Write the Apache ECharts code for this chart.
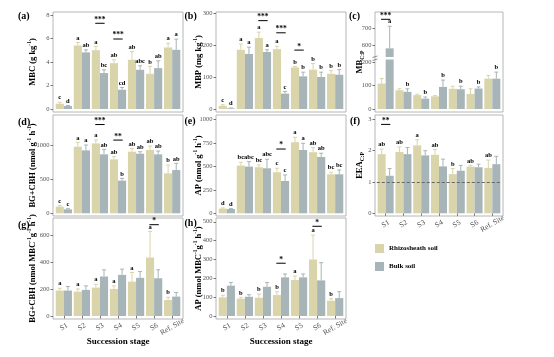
<!DOCTYPE html>
<html><head><meta charset="utf-8">
<script src="https://cdn.jsdelivr.net/npm/echarts@6/dist/echarts.min.js"></script>
<style>html,body{margin:0;padding:0;background:#fff}#c{width:554px;height:357px}</style>
</head><body><div id="c"></div>
<script>
// ---------------- data ----------------
const stages = ['S1', 'S2', 'S3', 'S4', 'S5', 'S6', 'Ref. Site'];
const seriesNames = ['Rhizosheath soil', 'Bulk soil'];

// (a) MBC (g kg-1)
const mbcRhizo = [0.45, 5.41, 5.01, 3.90, 4.19, 3.00, 5.24];
const mbcRhizoSe = [0.12, 0.26, 0.32, 0.29, 0.71, 0.63, 0.36];
const mbcBulk = [0.25, 4.82, 3.06, 1.64, 3.34, 3.48, 5.04];
const mbcBulkSe = [0.05, 0.22, 0.28, 0.20, 0.34, 0.62, 0.91];
const mbcRhizoLet = ['c', 'a', 'a', 'ab', 'ab', 'b', 'a'];
const mbcBulkLet = ['d', 'ab', 'bc', 'cd', 'abc', 'ab', 'a'];
const mbcSig = [[2, 7.3, '***'], [3, 5.96, '***']];
const mbcTicks = [0, 2, 4, 6, 8];

// (b) MBP (mg kg-1)
const mbpRhizo = [10, 185, 222, 187, 130, 123, 110];
const mbpRhizoSe = [3.5, 18, 18, 9, 3, 19, 10];
const mbpBulk = [2, 172, 178, 48, 102, 100, 107];
const mbpBulkSe = [1, 21, 7, 7, 13, 15, 16];
const mbpRhizoLet = ['c', 'a', 'a', 'a', 'b', 'b', 'b'];
const mbpBulkLet = ['d', 'a', 'a', 'c', 'b', 'b', 'b'];
const mbpSig = [[2, 276, '***'], [3, 238, '***'], [4, 184, '*']];
const mbpTicks = [0, 100, 200, 300];

// (c) MB C:P (broken axis)
const mbcpRhizo = [108, 80, 59, 54, 86, 64, 129];
const mbcpRhizoSe = [22, 6, 4, 3, 11, 22, 14];
const mbcpBulk = [580, 73, 44, 94, 84, 87, 129];
const mbcpBulkSe = [130, 13, 7, 29, 13, 7, 28];
const mbcpRhizoLet = [];
const mbcpBulkLet = ['a', 'b', 'b', 'b', 'b', 'b', 'b'];
const mbcpSig = [[0, 751, '***']];
const mbcpTicksLow = [0, 100, 200];
const mbcpTicksHigh = [600, 700];

// (d) BG+CBH (nmol g-1 h-1)
const bgRhizo = [98, 985, 1034, 798, 911, 936, 591];
const bgRhizoSe = [15, 64, 50, 39, 49, 59, 123];
const bgBulk = [59, 931, 872, 483, 882, 872, 640];
const bgBulkSe = [10, 79, 74, 34, 29, 49, 99];
const bgRhizoLet = ['c', 'a', 'a', 'ab', 'ab', 'ab', 'b'];
const bgBulkLet = ['c', 'a', 'ab', 'b', 'ab', 'ab', 'ab'];
const bgSig = [[2, 1313, '***'], [3, 1083, '**']];
const bgTicks = [0, 500, 1000];

// (e) AP (nmol g-1 h-1)
const apRhizo = [50, 508, 490, 437, 756, 650, 415];
const apRhizoSe = [7, 35, 25, 42, 53, 49, 22];
const apBulk = [46, 497, 479, 344, 674, 600, 415];
const apBulkSe = [4, 53, 96, 64, 71, 39, 46];
const apRhizoLet = ['d', 'bc', 'bc', 'c', 'a', 'ab', 'bc'];
const apBulkLet = ['d', 'abc', 'abc', 'c', 'a', 'ab', 'bc'];
const apSig = [[3, 684, '*']];
const apTicks = [0, 250, 500, 750, 1000];

// (f) EEA C:P
const eeaRhizo = [1.89, 1.96, 2.17, 1.87, 1.25, 1.49, 1.45];
const eeaRhizoSe = [0.16, 0.16, 0.18, 0.17, 0.18, 0.04, 0.25];
const eeaBulk = [1.20, 1.89, 1.85, 1.50, 1.36, 1.47, 1.57];
const eeaBulkSe = [0.23, 0.21, 0.15, 0.23, 0.17, 0.10, 0.25];
const eeaRhizoLet = ['ab', 'ab', 'a', 'ab', 'b', 'ab', 'ab'];
const eeaBulkLet = [];
const eeaSig = [[0, 2.84, '**']];
const eeaTicks = [0, 1, 2, 3];
const eeaRefLine = 1;

// (g) BG+CBH per MBC
const bgmRhizo = [190, 182, 212, 202, 257, 437, 120];
const bgmRhizoSe = [17, 20, 25, 23, 68, 195, 20];
const bgmBulk = [190, 195, 295, 307, 285, 282, 145];
const bgmBulkSe = [30, 30, 50, 43, 47, 63, 30];
const bgmRhizoLet = ['a', 'a', 'a', 'a', 'a', 'a', 'b'];
const bgmBulkLet = [];
const bgmSig = [[5, 682, '*']];
const bgmTicks = [0, 200, 400, 600];

// (h) AP per MBC
const apmRhizo = [99, 92, 97, 111, 191, 300, 81];
const apmRhizoSe = [11, 7, 20, 18, 21, 129, 11];
const apmBulk = [161, 102, 155, 205, 205, 189, 95];
const apmBulkSe = [17, 11, 23, 18, 18, 94, 34];
const apmRhizoLet = ['b', 'b', 'b', 'b', 'a', 'a', 'b'];
const apmBulkLet = [];
const apmSig = [[3, 280, '*'], [5, 476, '*']];
const apmTicks = [0, 100, 200, 300, 400, 500];

// ---------------- styling / layout ----------------
const FONT = '"Liberation Serif", "Times New Roman", serif';
const C_RHIZO = '#DAD4AA';
const C_BULK = '#A7B4B8';
const AXIS_GREY = '#555';
const FRAME = '#a3a3a3';

const layout = {
  a: {L: 53, R: 183, T: 12, B: 112, Y0: 109, max: 8.26},
  b: {L: 216, R: 346, T: 12, B: 112, Y0: 109, max: 303},
  c: {L: 375, R: 503, T: 12, B: 112, Y0: 109, lowTop: 59.5, lowMax: 210.6, upBot: 57, upMin: 529, upMax: 794},
  d: {L: 53, R: 183, T: 115, B: 216, Y0: 213.3, max: 1454},
  e: {L: 216, R: 346, T: 115, B: 216, Y0: 213.3, max: 1046},
  f: {L: 375, R: 503, T: 115, B: 216, Y0: 213.3, max: 3.14},
  g: {L: 53, R: 183, T: 218, B: 319, Y0: 316, max: 732},
  h: {L: 216, R: 346, T: 218, B: 319, Y0: 316, max: 520}
};

const panels = [
  {k: 'a', tag: '(a)', r: mbcRhizo, rs: mbcRhizoSe, b: mbcBulk, bs: mbcBulkSe, rl: mbcRhizoLet, bl: mbcBulkLet, sig: mbcSig, ticks: mbcTicks,
   name: 'MBC (g kg{sup|-1})', gap: 14, tx: 18, ty: 11},
  {k: 'b', tag: '(b)', r: mbpRhizo, rs: mbpRhizoSe, b: mbpBulk, bs: mbpBulkSe, rl: mbpRhizoLet, bl: mbpBulkLet, sig: mbpSig, ticks: mbpTicks,
   name: 'MBP (mg kg{sup|-1})', gap: 11, tx: 184.5, ty: 11},
  {k: 'c', tag: '(c)', r: mbcpRhizo, rs: mbcpRhizoSe, b: mbcpBulk, bs: mbcpBulkSe, rl: mbcpRhizoLet, bl: mbcpBulkLet, sig: mbcpSig, ticks: mbcpTicksLow, ticksHigh: mbcpTicksHigh,
   name: 'MB{sub|C:P}', gap: 9, tx: 349, ty: 11, broken: true},
  {k: 'd', tag: '(d)', r: bgRhizo, rs: bgRhizoSe, b: bgBulk, bs: bgBulkSe, rl: bgRhizoLet, bl: bgBulkLet, sig: bgSig, ticks: bgTicks,
   name: 'BG+CBH (nmol g{sup|-1} h{sup|-1})', gap: 14, tx: 18, ty: 117},
  {k: 'e', tag: '(e)', r: apRhizo, rs: apRhizoSe, b: apBulk, bs: apBulkSe, rl: apRhizoLet, bl: apBulkLet, sig: apSig, ticks: apTicks,
   name: 'AP (nmol g{sup|-1} h{sup|-1})', gap: 11, tx: 184.5, ty: 116},
  {k: 'f', tag: '(f)', r: eeaRhizo, rs: eeaRhizoSe, b: eeaBulk, bs: eeaBulkSe, rl: eeaRhizoLet, bl: eeaBulkLet, sig: eeaSig, ticks: eeaTicks,
   name: 'EEA{sub|C:P}', gap: 9, tx: 350, ty: 116, xLabels: true, refLine: eeaRefLine},
  {k: 'g', tag: '(g)', r: bgmRhizo, rs: bgmRhizoSe, b: bgmBulk, bs: bgmBulkSe, rl: bgmRhizoLet, bl: bgmBulkLet, sig: bgmSig, ticks: bgmTicks,
   name: 'BG+CBH (nmol MBC{sup|-1}g{sup|-1} h{sup|-1})', gap: 14, tx: 18, ty: 220, xLabels: true, xName: 'Succession stage'},
  {k: 'h', tag: '(h)', r: apmRhizo, rs: apmRhizoSe, b: apmBulk, bs: apmBulkSe, rl: apmRhizoLet, bl: apmBulkLet, sig: apmSig, ticks: apmTicks,
   name: 'AP (nmol MBC{sup|-1}g{sup|-1} h{sup|-1})', gap: 11, tx: 184.5, ty: 218.5, xLabels: true, xName: 'Succession stage'}
];

// ---------------- option building ----------------
const grids = [], xAxes = [], yAxes = [], series = [], titles = [], graphics = [];

const nameStyle = {
  fontFamily: FONT, fontWeight: 'bold', fontSize: 8.5, color: '#000',
  rich: {
    sup: {fontFamily: FONT, fontWeight: 'bold', fontSize: 5.5, color: '#000', verticalAlign: 'top', lineHeight: 12},
    sub: {fontFamily: FONT, fontWeight: 'bold', fontSize: 5.5, color: '#000', verticalAlign: 'bottom', lineHeight: 12}
  }
};

function addFrame(lay, P) {
  const gi = grids.length;
  grids.push({left: lay.L, top: lay.T, width: lay.R - lay.L, height: lay.B - lay.T,
    show: true, borderColor: FRAME, borderWidth: 0.8, backgroundColor: 'transparent'});
  xAxes.push({gridIndex: gi, type: 'value', min: 0, max: 1, show: !!P.xName,
    name: P.xName || '', nameLocation: 'middle', nameGap: 18.5,
    nameTextStyle: {fontFamily: FONT, fontWeight: 'bold', fontSize: 9, color: '#000'},
    axisLine: {show: false}, axisTick: {show: false}, axisLabel: {show: false}, splitLine: {show: false}});
  yAxes.push({gridIndex: gi, type: 'value', min: 0, max: 1, show: true,
    name: P.name, nameLocation: 'middle', nameGap: P.gap, nameTextStyle: nameStyle,
    axisLine: {show: false}, axisTick: {show: false}, axisLabel: {show: false}, splitLine: {show: false}});
}

function addData(lay, top, bottom, yMin, yMax, ticks, showX) {
  const gi = grids.length;
  const W = lay.R - lay.L;
  const pad = W * 0.1 / 7.2;
  grids.push({left: lay.L + pad, width: W * 7 / 7.2, top: top, height: bottom - top, show: false});
  xAxes.push({gridIndex: gi, type: 'category', data: stages, offset: lay.B - bottom,
    axisLine: {show: false},
    axisTick: {show: !!showX, alignWithLabel: true, length: 2.5, lineStyle: {color: AXIS_GREY, width: 0.8}},
    axisLabel: {show: !!showX, rotate: 30, align: 'center', verticalAlign: 'middle', margin: 8,
      fontSize: 7.5, color: AXIS_GREY, fontFamily: FONT, interval: 0},
    splitLine: {show: false}});
  yAxes.push({gridIndex: gi, type: 'value', min: yMin, max: yMax, offset: pad,
    axisLine: {show: false},
    axisTick: {show: true, length: 2.5, customValues: ticks, lineStyle: {color: AXIS_GREY, width: 0.8}},
    axisLabel: {customValues: ticks, fontSize: 6.5, color: AXIS_GREY, fontFamily: FONT, margin: 3.5,
      formatter: function (v) { return String(v); }},
    splitLine: {show: false}});
  return gi;
}

function makeRender(P, lo, hi) {
  return function (params, api) {
    const i = params.dataIndex;
    const bw = api.size([1, 0])[0];
    const off = bw * 0.225, cap = bw * 0.11;
    const kids = [];
    const sets = [[P.r, P.rs, P.rl, -1, C_RHIZO], [P.b, P.bs, P.bl, 1, C_BULK]];
    sets.forEach(function (s) {
      const m = s[0][i], se = s[1][i], lt = s[2][i], sg = s[3], col = s[4];
      const top = m + se;
      const p0 = api.coord([i, m]);
      const p1 = api.coord([i, top]);
      const x = p0[0] + sg * off;
      kids.push({type: 'line', shape: {x1: x, y1: p0[1], x2: x, y2: p1[1]}, style: {stroke: col, lineWidth: 1}});
      kids.push({type: 'line', shape: {x1: x - cap, y1: p1[1], x2: x + cap, y2: p1[1]}, style: {stroke: col, lineWidth: 1}});
      if (lt && top >= lo && top <= hi) {
        kids.push({type: 'text', x: x, y: p1[1] - 1,
          style: {text: lt, fill: '#000', fontFamily: FONT, fontWeight: 'bold', fontSize: 6.5,
            align: 'center', verticalAlign: 'bottom', textAlign: 'center', textVerticalAlign: 'bottom'}});
      }
    });
    P.sig.forEach(function (sg) {
      if (sg[0] !== i || sg[1] < lo || sg[1] > hi) return;
      const p = api.coord([i, sg[1]]);
      kids.push({type: 'line', shape: {x1: p[0] - bw * 0.26, y1: p[1], x2: p[0] + bw * 0.26, y2: p[1]}, style: {stroke: '#000', lineWidth: 1}});
      kids.push({type: 'text', x: p[0], y: p[1] + 0.5,
        style: {text: sg[2], fill: '#000', fontFamily: FONT, fontWeight: 'bold', fontSize: 7.5,
          align: 'center', verticalAlign: 'bottom', textAlign: 'center', textVerticalAlign: 'bottom'}});
    });
    return {type: 'group', children: kids};
  };
}

function addSeries(gi, P, lo, hi, clip) {
  const bar = function (name, data, color) {
    return {type: 'bar', name: name, xAxisIndex: gi, yAxisIndex: gi, data: data,
      barGap: '0%', barCategoryGap: '10%', itemStyle: {color: color}, clip: true, silent: true};
  };
  const rb = bar(seriesNames[0], P.r, C_RHIZO);
  const bb = bar(seriesNames[1], P.b, C_BULK);
  if (P.refLine !== undefined) {
    bb.markLine = {symbol: 'none', silent: true, label: {show: false},
      lineStyle: {type: [3, 2], color: '#666', width: 1.2}, data: [{yAxis: P.refLine}]};
  }
  series.push(rb, bb);
  series.push({type: 'custom', xAxisIndex: gi, yAxisIndex: gi, z: 5, clip: clip, silent: true,
    data: stages.map(function (s, i) { return [i, 0]; }), renderItem: makeRender(P, lo, hi)});
}

panels.forEach(function (P) {
  const lay = layout[P.k];
  addFrame(lay, P);
  titles.push({text: P.tag, left: P.tx, top: P.ty, padding: 0,
    textStyle: {fontFamily: FONT, fontWeight: 'bold', fontSize: 10, color: '#000'}});
  if (P.broken) {
    const g1 = addData(lay, lay.lowTop, lay.Y0, 0, lay.lowMax, P.ticks, false);
    addSeries(g1, P, 0, lay.lowMax, true);
    const g2 = addData(lay, lay.T, lay.upBot, lay.upMin, lay.upMax, P.ticksHigh, false);
    xAxes[g2].show = false;
    addSeries(g2, P, lay.upMin, lay.upMax, true);
    // small axis-break mark
    graphics.push({type: 'line', shape: {x1: lay.L - 2.5, y1: lay.upBot + 0.5, x2: lay.L + 2.5, y2: lay.upBot - 1}, style: {stroke: '#777', lineWidth: 0.8}});
    graphics.push({type: 'line', shape: {x1: lay.L - 2.5, y1: lay.lowTop + 1, x2: lay.L + 2.5, y2: lay.lowTop - 0.5}, style: {stroke: '#777', lineWidth: 0.8}});
  } else {
    const g = addData(lay, lay.T, lay.Y0, 0, lay.max, P.ticks, P.xLabels);
    addSeries(g, P, 0, lay.max, false);
  }
});

const option = {
  animation: false,
  backgroundColor: '#fff',
  title: titles,
  legend: {orient: 'vertical', left: 375, top: 244, padding: 0, itemWidth: 9, itemHeight: 9, itemGap: 9,
    icon: 'rect', data: seriesNames, selectedMode: false,
    textStyle: {fontFamily: FONT, fontWeight: 'bold', fontSize: 7, color: '#000'}},
  grid: grids,
  xAxis: xAxes,
  yAxis: yAxes,
  series: series,
  graphic: graphics
};

const chart = echarts.init(document.getElementById('c'), null, {renderer: 'canvas'});
chart.setOption(option);
</script>
</body></html>
